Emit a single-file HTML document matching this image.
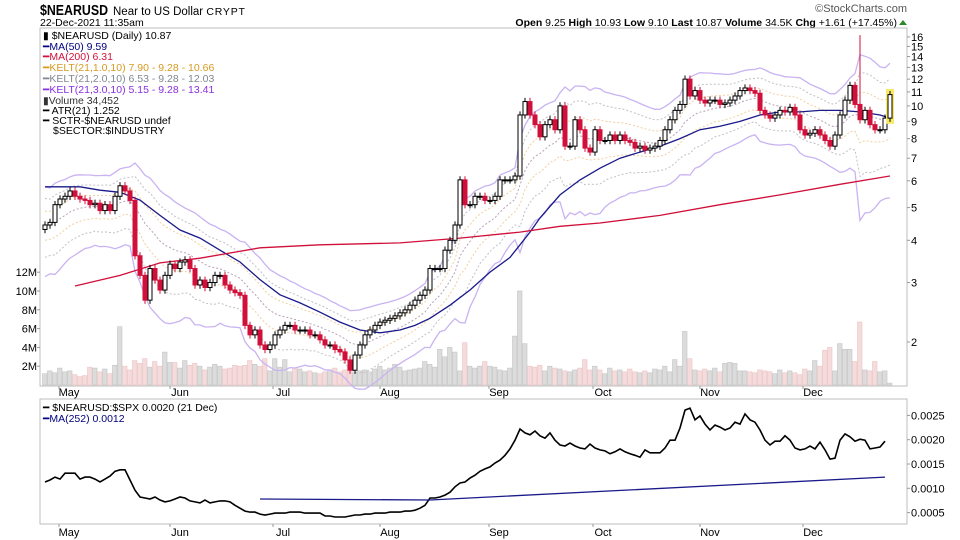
<!DOCTYPE html>
<html><head><meta charset="utf-8"><style>
body{margin:0;background:#fff;}
svg{display:block;font-family:"Liberation Sans",sans-serif;}
</style></head><body>
<svg id="chart" width="960" height="540" viewBox="0 0 960 540">
<g>
<text x="40" y="15" font-size="15" font-weight="bold" textLength="68" lengthAdjust="spacingAndGlyphs">$NEARUSD</text>
<text x="113" y="15" font-size="11.5">Near to US Dollar <tspan font-size="10.5" letter-spacing="0.8">CRYPT</tspan></text>
<text x="40" y="26" font-size="10.5">22-Dec-2021 11:35am</text>
<text x="907" y="12" font-size="11" fill="#555" text-anchor="end">©StockCharts.com</text>
<text x="897" y="26" font-size="10.5" text-anchor="end"><tspan font-weight="bold">Open</tspan> 9.25  <tspan font-weight="bold">High</tspan> 10.93  <tspan font-weight="bold">Low</tspan> 9.10  <tspan font-weight="bold">Last</tspan> 10.87  <tspan font-weight="bold">Volume</tspan> 34.5K  <tspan font-weight="bold">Chg</tspan> +1.61 (+17.45%)</text>
<path d="M899 25 L903 20 L907 25 Z" fill="#2a8a2a"/>
</g>
<rect x="40" y="28" width="867" height="358" fill="#fff" stroke="#bdbdbd"/>
<rect x="40" y="399" width="867" height="125" fill="#fff" stroke="#bdbdbd"/>
<g id="vol"></g><g id="bands"></g><g id="mas"></g><g id="candles"></g><g id="ratio"></g><g id="axes"></g>
<g font-size="10.5">
<text x="43" y="39">▮ $NEARUSD (Daily) 10.87</text>
<text x="43" y="50" fill="#000080">━MA(50) 9.59</text>
<text x="43" y="60" fill="#d0103a">━MA(200) 6.31</text>
<text x="43" y="71" fill="#d89a20">━KELT(21,1.0,10) 7.90 - 9.28 - 10.66</text>
<text x="43" y="82" fill="#808890">━KELT(21,2.0,10) 6.53 - 9.28 - 12.03</text>
<text x="43" y="93" fill="#8a30e0">━KELT(21,3.0,10) 5.15 - 9.28 - 13.41</text>
<text x="43" y="104" fill="#333">▮Volume 34,452</text>
<text x="43" y="114">━ ATR(21) 1.252</text>
<text x="43" y="124">━ SCTR-$NEARUSD undef</text>
<text x="53" y="134">$SECTOR:$INDUSTRY</text>
<text x="43" y="411">━ $NEARUSD:$SPX 0.0020 (21 Dec)</text>
<text x="43" y="422" fill="#000080">━MA(252) 0.0012</text>
</g>
</svg>
<script>
const closes=[4.44,4.52,5.1,5.3,5.4,5.6,5.4,5.3,5.25,5.1,
5.15,4.9,5.1,4.9,5.4,5.8,5.6,5.25,3.6,3.15,
2.66,3.3,3.05,2.85,3.15,3.4,3.3,3.45,3.5,3.3,
2.95,3.05,2.9,3.0,3.15,3.15,2.95,2.85,2.8,2.75,
2.24,2.10,2.17,1.96,1.90,1.96,2.10,2.17,2.24,2.24,
2.17,2.17,2.17,2.10,2.10,2.03,1.96,1.96,1.90,1.87,
1.77,1.65,1.83,1.96,2.10,2.17,2.24,2.29,2.32,2.35,
2.39,2.44,2.49,2.57,2.66,2.75,2.85,3.3,3.3,3.3,
3.74,4.0,4.44,6.04,5.1,5.1,5.4,5.4,5.25,5.25,
5.4,6.04,6.04,6.04,6.2,9.4,10.3,9.4,8.8,8.1,
8.8,9.1,8.5,10.0,7.6,7.6,9.1,8.5,7.5,7.3,
8.5,7.9,7.9,8.2,7.9,8.2,7.9,7.8,7.5,7.6,
7.4,7.5,7.6,7.9,8.5,9.1,9.7,10.1,12.0,10.7,
11.1,10.4,10.2,10.4,10.4,10.1,10.2,10.4,10.7,11.1,
11.3,11.1,10.9,9.7,9.4,9.2,9.4,9.7,9.6,9.9,
9.4,8.5,8.2,8.3,8.5,8.2,7.9,7.6,8.2,9.4,
10.4,11.5,10.1,9.1,9.7,8.8,8.5,8.5,9.2,10.8];
const spikeIdx=[163];
const spikeHigh=[16.2];
const volumes=[1.2,1.5,1.3,1.8,1.4,1.5,1.1,0.9,1.0,1.9,1.8,1.4,1.7,1.2,2.1,
6.2,2.0,1.6,2.6,2.3,
2.8,1.9,2.5,2.0,3.5,2.4,2.4,1.8,2.6,2.1,2.3,2.0,1.6,1.9,2.2,2.0,1.7,1.8,2.1,2.0,
2.1,2.6,2.2,2.0,2.8,1.5,2.8,1.9,2.7,1.4,1.8,1.7,1.4,1.5,1.3,1.2,1.4,1.6,1.8,1.4,
1.6,2.0,1.3,1.5,1.6,1.4,1.7,2.0,1.6,1.8,2.2,1.9,1.5,1.6,1.7,1.8,2.5,2.2,1.9,3.8,
3.0,4.0,3.5,1.5,4.5,2.0,1.8,2.0,2.5,2.0,1.9,1.6,1.5,1.8,5.2,10.0,4.4,2.0,1.9,2.1,
1.5,2.0,1.8,1.7,1.5,1.4,1.6,1.8,2.7,1.6,2.0,1.6,1.2,1.8,1.5,1.6,1.4,1.7,1.4,1.3,
1.5,1.3,1.7,1.6,2.0,1.4,2.7,2.0,5.7,2.8,1.6,1.5,1.7,1.5,1.8,1.4,2.3,2.4,2.3,1.5,
1.5,1.4,1.3,1.6,1.5,1.4,1.2,1.6,1.3,1.5,1.3,1.1,1.7,1.5,2.6,2.0,3.7,4.0,1.5,4.4,
3.8,3.8,2.5,6.7,1.6,1.5,2.5,1.4,1.5,0.2];
const ma50Idx=[0,7,11,15,19,23,27,31,35,39,43,47,51,55,59,63,67,71,74,77,81,85,89,93,95,97,99,103,107,111,115,119,123,127,131,135,139,143,147,151,155,159,163,167,169];
const ma50Val=[5.76,5.76,5.63,5.55,5.26,4.74,4.29,4.06,3.74,3.45,3.06,2.76,2.61,2.45,2.29,2.17,2.13,2.17,2.24,2.35,2.57,2.85,3.22,3.56,3.88,4.23,4.66,5.45,6.04,6.54,7.0,7.3,7.6,8.0,8.5,8.7,9.0,9.4,9.6,9.6,9.7,9.7,9.6,9.4,9.2];
const ma200Idx=[6,15,23,31,43,55,71,83,95,103,111,123,135,147,159,169];
const ma200Val=[2.93,3.15,3.43,3.54,3.80,3.88,3.93,4.06,4.23,4.4,4.5,4.74,5.1,5.45,5.86,6.2];
const ratio=[.00113,.00117,.00123,.00119,.00131,.00131,.00131,.00119,.00123,.00123,
.00119,.00113,.00119,.00125,.00135,.00138,.00138,.00117,.00096,.00082,
.00080,.00078,.00082,.00076,.00072,.00074,.00078,.00082,.00080,.00074,
.00072,.00070,.00076,.00070,.00072,.00074,.00074,.00072,.00065,.00059,
.00053,.00051,.00051,.00047,.00045,.00047,.00049,.00049,.00049,.00051,
.00051,.00051,.00049,.00049,.00049,.00049,.00043,.00043,.00041,.00041,
.00041,.00043,.00045,.00045,.00047,.00047,.00049,.00049,.00049,.00051,
.00051,.00051,.00053,.00053,.00055,.00059,.00065,.00080,.00080,.00082,
.00086,.00092,.00103,.00111,.00113,.00121,.00127,.00135,.00140,.00144,
.00152,.00158,.00168,.00181,.00199,.00222,.00214,.00210,.00218,.00208,
.00203,.00214,.00199,.00189,.00187,.00193,.00187,.00183,.00181,.00191,
.00183,.00179,.00177,.00171,.00175,.00181,.00175,.00171,.00168,.00164,
.00179,.00173,.00173,.00173,.00183,.00199,.00199,.00224,.00261,.00265,
.00241,.00249,.00232,.00220,.00230,.00226,.00220,.00224,.00236,.00232,
.00253,.00241,.00236,.00220,.00199,.00189,.00197,.00197,.00208,.00199,
.00183,.00179,.00181,.00187,.00181,.00195,.00179,.00160,.00162,.00199,
.00212,.00206,.00197,.00201,.00199,.00181,.00183,.00185,.00197];
const ma252Idx=[43,77,168];
const ma252Val=[.00078,.00076,.00123];
const priceTicks=[2,3,4,5,6,7,8,9,10,11,12,13,14,15,16];
const volTicks=[2,4,6,8,10,12];
const ratioTicks=[0.0005,0.0010,0.0015,0.0020,0.0025];
const months=["May","Jun","Jul","Aug","Sep","Oct","Nov","Dec"];
const monthIdx=[4.8,27,47.6,69,90.8,111.6,133,153.6];

const NS="http://www.w3.org/2000/svg";
const X0=45,STEP=5;
function xS(i){return X0+i*STEP;}
function yP(p){return 342-146.7*Math.log(p/2);}
function yV(v){return 385-v*9.4;}
function yR(v){return 439.7-(v-0.002)*48600;}
function mk(tag,attrs,parent){const e=document.createElementNS(NS,tag);for(const k in attrs)e.setAttribute(k,attrs[k]);parent.appendChild(e);return e;}
function pathFrom(idx,val,ys){return idx.map((ix,j)=>(j?'L':'M')+xS(ix).toFixed(1)+' '+ys(val[j]).toFixed(1)).join(' ');}

const opens=closes.map((c,i)=>i?closes[i-1]:c*0.97);
const highs=closes.map((c,i)=>Math.max(c,opens[i])*1.025);
const lows=closes.map((c,i)=>Math.min(c,opens[i])*0.975);
spikeIdx.forEach((ix,j)=>{highs[ix]=spikeHigh[j];});

// volume
const gv=document.getElementById('vol');
volumes.forEach((v,i)=>{
 const up=closes[i]>=opens[i];
 const r=mk('rect',{x:xS(i)-2.5,y:yV(v),width:4.5,height:385-yV(v),fill:up?'#dcdcdc':'#f5dcdc',stroke:up?'#c4c4c4':'#ecc4c4','stroke-width':0.6},gv);
 
 
});

// keltner bands computed from closes
const gb=document.getElementById('bands');
const a=2/15,aa=2/19;let mid=closes[0],atr=closes[0]*0.11;const midA=[],atrA=[];
closes.forEach((c,i)=>{const pc=i?closes[i-1]:c;const tr=Math.max(highs[i],pc)-Math.min(lows[i],pc);
 mid=i?mid+a*(c-mid):c;atr=i?atr+aa*(tr-atr):atr;midA.push(mid);atrA.push(atr*0.9);});
const bandDefs=[[3,'#c9b3f2','none',1.3],[-3,'#c9b3f2','none',1.3],[2,'#c0c0c8','2,2',1],[-2,'#c0c0c8','2,2',1],[1,'#f0cfa0','2,2',1],[-1,'#f0cfa0','2,2',1],[0,'#b8a0b8','2,2',1]];
bandDefs.forEach(d=>{
 const pts=midA.map((m,i)=>(i?'L':'M')+xS(i)+' '+yP(Math.max(1.45,m+d[0]*atrA[i])).toFixed(1)).join(' ');
 const p=mk('path',{d:pts,fill:'none',stroke:d[1],'stroke-dasharray':d[2],'stroke-width':d[3]},gb);
 
 
});

// moving averages
const gm=document.getElementById('mas');
const m50=mk('path',{d:pathFrom(ma50Idx,ma50Val,yP),fill:'none',stroke:'#1a1a8a','stroke-width':1.3},gm);


const m200=mk('path',{d:pathFrom(ma200Idx,ma200Val,yP),fill:'none',stroke:'#d0103a','stroke-width':1.3},gm);



// candles
const gc=document.getElementById('candles');
closes.forEach((c,i)=>{
 const o=opens[i],up=c>=o,x=xS(i);
 const last=i===closes.length-1;
 const col=up?'#000':'#d0103a';
 const yt=yP(Math.max(o,c)),yb=yP(Math.min(o,c));
 if(last){const hl=mk('rect',{x:x-4,y:yP(highs[i])-2,width:8,height:yP(lows[i])-yP(highs[i])+4,fill:'#f7ea6a'},gc);
  
  }
 const w=mk('line',{x1:x,x2:x,y1:yP(highs[i]),y2:yP(lows[i]),stroke:col,'stroke-width':1},gc);
 
 
 const b=mk('rect',{x:x-2,y:yt,width:4,height:Math.max(1,yb-yt),fill:up?'#fff':'#d0103a',stroke:col,'stroke-width':1},gc);
 
 
});

// ratio
const gr=document.getElementById('ratio');
const rl=mk('path',{d:ratio.map((v,i)=>(i?'L':'M')+xS(i)+' '+yR(v).toFixed(1)).join(' '),fill:'none',stroke:'#000','stroke-width':1.6},gr);


const rm=mk('path',{d:pathFrom(ma252Idx,ma252Val,yR),fill:'none',stroke:'#1a1a8a','stroke-width':1.3},gr);



// axes
const ga=document.getElementById('axes');
priceTicks.forEach(p=>{const t=mk('text',{x:911,y:yP(p)+4,'font-size':11},ga);t.textContent=p;
 
 
 mk('line',{x1:907,x2:910,y1:yP(p),y2:yP(p),stroke:'#999'},ga);});
volTicks.forEach(v=>{const t=mk('text',{x:37,y:yV(v)+4,'font-size':11,'text-anchor':'end'},ga);t.textContent=v+'M';
 
 
 mk('line',{x1:37,x2:40,y1:yV(v),y2:yV(v),stroke:'#999'},ga);});
ratioTicks.forEach(v=>{const t=mk('text',{x:911,y:yR(v)+4,'font-size':11},ga);t.textContent=v.toFixed(4);
 
 
 mk('line',{x1:907,x2:910,y1:yR(v),y2:yR(v),stroke:'#999'},ga);});
months.forEach((m,j)=>{const x=xS(monthIdx[j]);
 [396,536].forEach(y=>{const t=mk('text',{x:x,y:y,'font-size':11,'text-anchor':'middle'},ga);t.textContent=m;
  
  });
 mk('line',{x1:x-10,x2:x-10,y1:386,y2:389,stroke:'#999'},ga);
 mk('line',{x1:x-10,x2:x-10,y1:524,y2:527,stroke:'#999'},ga);
});
</script>
</body></html>
